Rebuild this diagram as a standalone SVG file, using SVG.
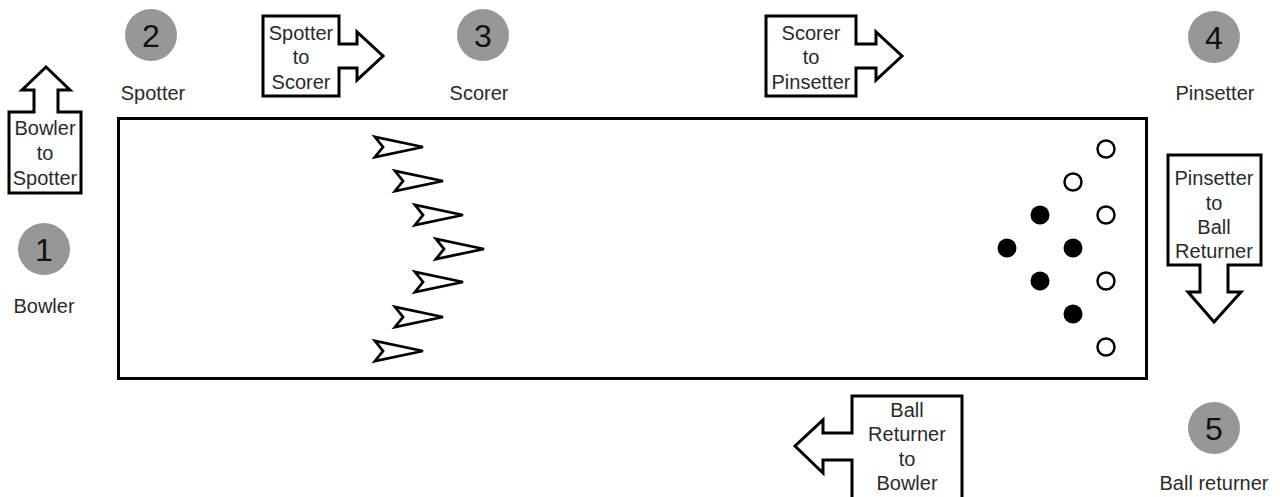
<svg xmlns="http://www.w3.org/2000/svg" width="1280" height="497" viewBox="0 0 1280 497">
<style>
.t{font-family:"Liberation Sans",Arial,sans-serif;font-size:20px;fill:#2a2a2a;text-anchor:middle}
.d{font-family:"Liberation Sans",Arial,sans-serif;font-size:32px;fill:#111;text-anchor:middle}
.c{fill:#979797}
.box{fill:#fff;stroke:#000;stroke-width:3;stroke-linejoin:miter}
.lane{fill:#fff;stroke:#000;stroke-width:3}
.pinO{fill:#fff;stroke:#000;stroke-width:2.5}
.pinF{fill:#000}
.dart{fill:#fff;stroke:#000;stroke-width:2.8;stroke-linejoin:miter}
</style>
<defs>
<path id="dart" d="M0,0 L-48,-10 L-40,0 L-48,10 Z"/>
</defs>
<rect id="lane" class="lane" x="118.5" y="118.5" width="1028" height="260"/>
<g id="node-bowler">
<circle class="c" cx="44" cy="249" r="26"/>
<text class="d" x="44" y="261">1</text>
<text class="t" x="44" y="313">Bowler</text>
</g>
<g id="node-spotter">
<circle class="c" cx="151" cy="35" r="26"/>
<text class="d" x="151" y="47">2</text>
<text class="t" x="153" y="100">Spotter</text>
</g>
<g id="node-scorer">
<circle class="c" cx="483" cy="35" r="26"/>
<text class="d" x="483" y="47">3</text>
<text class="t" x="479" y="100">Scorer</text>
</g>
<g id="node-pinsetter">
<circle class="c" cx="1214" cy="37" r="26"/>
<text class="d" x="1214" y="49">4</text>
<text class="t" x="1215" y="100">Pinsetter</text>
</g>
<g id="node-ballreturner">
<circle class="c" cx="1214" cy="428" r="26"/>
<text class="d" x="1214" y="440">5</text>
<text class="t" x="1214" y="490">Ball returner</text>
</g>
<g id="connectors">
<g id="arrow-bowler-spotter">
<path class="box" d="M9,193 L81,193 L81,112 L58,112 L58,90 L70,90 L46,67 L22,90 L34,90 L34,112 L9,112 Z"/>
<text class="t" x="45" y="135">Bowler</text>
<text class="t" x="45" y="160">to</text>
<text class="t" x="45" y="185">Spotter</text>
</g>
<g id="arrow-spotter-scorer">
<path class="box" d="M263,16 L339,16 L339,44 L357,44 L357,32 L383,56 L357,80 L357,68 L339,68 L339,96 L263,96 Z"/>
<text class="t" x="301" y="40">Spotter</text>
<text class="t" x="301" y="64">to</text>
<text class="t" x="301" y="89">Scorer</text>
</g>
<g id="arrow-scorer-pinsetter">
<path class="box" d="M766,16 L856,16 L856,44 L876,44 L876,32 L902,56 L876,80 L876,68 L856,68 L856,96 L766,96 Z"/>
<text class="t" x="811" y="40">Scorer</text>
<text class="t" x="811" y="64">to</text>
<text class="t" x="811" y="89">Pinsetter</text>
</g>
<g id="arrow-pinsetter-ballreturner">
<path class="box" d="M1168,155 L1261,155 L1261,265 L1228,265 L1228,292 L1241,292 L1214,322 L1188,292 L1200,292 L1200,265 L1168,265 Z"/>
<text class="t" x="1214" y="185">Pinsetter</text>
<text class="t" x="1214" y="210">to</text>
<text class="t" x="1214" y="234">Ball</text>
<text class="t" x="1214" y="258">Returner</text>
</g>
<g id="arrow-ballreturner-bowler">
<path class="box" d="M852,505 L852,460 L823,460 L823,473 L795,446 L823,420 L823,433 L852,433 L852,396 L962,396 L962,505"/>
<text class="t" x="907" y="417">Ball</text>
<text class="t" x="907" y="441">Returner</text>
<text class="t" x="907" y="466">to</text>
<text class="t" x="907" y="490">Bowler</text>
</g>
</g>
<g id="balls">
<use href="#dart" class="dart" x="423" y="147"/>
<use href="#dart" class="dart" x="443" y="181"/>
<use href="#dart" class="dart" x="463" y="215"/>
<use href="#dart" class="dart" x="484" y="249"/>
<use href="#dart" class="dart" x="463" y="282"/>
<use href="#dart" class="dart" x="443" y="317"/>
<use href="#dart" class="dart" x="423" y="351"/>
</g>
<g id="pins">
<circle class="pinO" cx="1106" cy="149" r="8.5"/>
<circle class="pinO" cx="1073" cy="182" r="8.5"/>
<circle class="pinO" cx="1106" cy="215" r="8.5"/>
<circle class="pinO" cx="1106" cy="281" r="8.5"/>
<circle class="pinO" cx="1106" cy="347" r="8.5"/>
<circle class="pinF" cx="1040" cy="215" r="9.5"/>
<circle class="pinF" cx="1007" cy="248" r="9.5"/>
<circle class="pinF" cx="1073" cy="248" r="9.5"/>
<circle class="pinF" cx="1040" cy="281" r="9.5"/>
<circle class="pinF" cx="1073" cy="314" r="9.5"/>
</g>
</svg>
